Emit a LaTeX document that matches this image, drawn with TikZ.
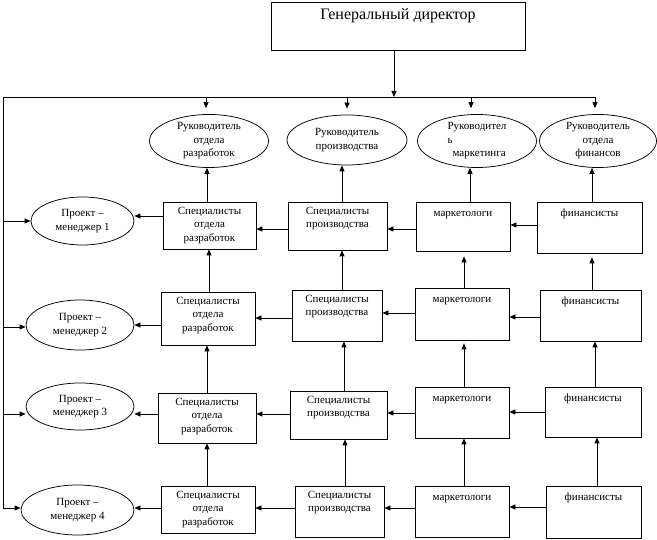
\documentclass[tikz,border=0pt]{standalone}
\usepackage{fontspec}
\setmainfont{Liberation Serif}
\usetikzlibrary{arrows.meta,shapes.geometric}

\begin{document}
\begin{tikzpicture}[x=1pt,y=-1pt,line width=0.75pt,
    >={Triangle[length=6pt,width=5pt]},font=\fontsize{11}{13.5}\selectfont,
    box/.style={draw,rectangle,inner sep=0pt},
    boss/.style={draw,ellipse,inner sep=-2pt,minimum width=119pt,minimum height=53pt,align=center},
    pm/.style={draw,ellipse,inner sep=0pt,align=center},
    txt/.style={label={[anchor=north,align=center,inner sep=5pt,execute at begin node=\strut]north:#1}}]
    \useasboundingbox (0,0) rectangle (657,540);
    % director
    \node[box,minimum width=254pt,minimum height=48pt,
      label={[anchor=north,inner sep=6.5pt,font=\fontsize{16}{19}\selectfont]north:Генеральный директор}] (gd) at (398,26) {};
    % heads
    \node[boss] (rd) at (209,141) {Руководитель\\отдела\\разработок};
    \node[boss,minimum width=120pt,minimum height=50pt] (rp) at (347,140) {Руководитель\\производства};
    \node[boss,align=left] (rm) at (477,141) {Руководител\\ь\\\hspace*{5pt}маркетинга};
    \node[boss,minimum width=117pt] (rf) at (598,141) {Руководитель\\отдела\\финансов};
    % row 1
    \node[pm,minimum width=103pt,minimum height=48pt] (pm1) at (82.5,221) {Проект –\\менеджер 1};
    \node[box,minimum width=93pt,minimum height=47pt,txt=Специалисты\\отдела\\разработок] (d1) at (209.5,225.5) {};
    \node[box,minimum width=99pt,minimum height=48pt,txt=Специалисты\\производства] (p1) at (337.5,226) {};
    \node[box,minimum width=94pt,minimum height=49pt,txt=маркетологи] (m1) at (463,226.5) {};
    \node[box,minimum width=105pt,minimum height=51pt,txt=финансисты] (f1) at (589.5,227.5) {};
    % row 2
    \node[pm,minimum width=108pt,minimum height=50pt] (pm2) at (80,325) {Проект –\\менеджер 2};
    \node[box,minimum width=94pt,minimum height=53pt,txt=Специалисты\\отдела\\разработок] (d2) at (208,318.5) {};
    \node[box,minimum width=90pt,minimum height=51pt,txt=Специалисты\\производства] (p2) at (337,315.5) {};
    \node[box,minimum width=94pt,minimum height=52pt,txt=маркетологи] (m2) at (462,314) {};
    \node[box,minimum width=101pt,minimum height=51pt,txt=финансисты] (f2) at (590.5,315.5) {};
    % row 3
    \node[pm,minimum width=108pt,minimum height=47pt] (pm3) at (80,406.5) {Проект –\\менеджер 3};
    \node[box,minimum width=98pt,minimum height=50pt,txt=Специалисты\\отдела\\разработок] (d3) at (207,418) {};
    \node[box,minimum width=97pt,minimum height=48pt,txt=Специалисты\\производства] (p3) at (338.5,415) {};
    \node[box,minimum width=94pt,minimum height=51pt,txt=маркетологи] (m3) at (462,412.5) {};
    \node[box,minimum width=96pt,minimum height=50pt,txt=финансисты] (f3) at (593,412) {};
    % row 4
    \node[pm,minimum width=113pt,minimum height=50pt] (pm4) at (77.5,510) {Проект –\\менеджер 4};
    \node[box,minimum width=94pt,minimum height=47pt,txt=Специалисты\\отдела\\разработок] (d4) at (208,509.5) {};
    \node[box,minimum width=89pt,minimum height=51pt,txt=Специалисты\\производства] (p4) at (339.5,511.5) {};
    \node[box,minimum width=94pt,minimum height=51pt,txt=маркетологи] (m4) at (462,511.5) {};
    \node[box,minimum width=95pt,minimum height=52pt,txt=финансисты] (f4) at (593.5,512) {};
    % bus
    \coordinate (tj) at (394,97);
    \coordinate (tl) at (3,97);
    \coordinate (tr) at (595,97);
    \coordinate (bl) at (3,508);
    \draw[->] (gd.south -| tj) -- (tj);
    \draw (tr) -- (tl) -- (bl);
    \draw[->,shorten >=6pt] (tl -| 206,0) -- (rd.north -| 206,0);
    \draw[->,shorten >=6pt] (tl -| 347,0) -- (rp.north -| 347,0);
    \draw[->,shorten >=6pt] (tl -| 471,0) -- (rm.north -| 471,0);
    \draw[->,shorten >=6pt] (tr) -- (rf.north -| tr);
    % upwards
    \draw[->] (d1.north -| 207,0) -- (rd.south -| 207,0);
    \draw[->] (p1.north -| 342,0) -- (rp.south -| 342,0);
    \draw[->] (m1.north -| 470,0) -- (rm.south -| 470,0);
    \draw[->] (f1.north -| 592,0) -- (rf.south -| 592,0);
    \draw[->] (d2.north -| 209,0) -- (d1.south -| 209,0);
    \draw[->] (p2.north -| 342,0) -- (p1.south -| 342,0);
    \draw[->,shorten >=5pt] (m2.north -| 464,0) -- (m1.south -| 464,0);
    \draw[->,shorten >=4pt] (f2.north -| 592,0) -- (f1.south -| 592,0);
    \draw[->] (d3.north -| 207,0) -- (d2.south -| 207,0);
    \draw[->] (p3.north -| 344,0) -- (p2.south -| 344,0);
    \draw[->,shorten >=3pt] (m3.north -| 464,0) -- (m2.south -| 464,0);
    \draw[->] (f3.north -| 595,0) -- (f2.south -| 595,0);
    \draw[->] (d4.north -| 207,0) -- (d3.south -| 207,0);
    \draw[->] (p4.north -| 345,0) -- (p3.south -| 345,0);
    \draw[->] (m4.north -| 464,0) -- (m3.south -| 464,0);
    \draw[->] (f4.north -| 597,0) -- (f3.south -| 597,0);
    % leftwards
    \draw[->] (f1.west |- 0,225) -- (m1.east |- 0,225);
    \draw[->] (m1.west |- 0,229) -- (p1.east |- 0,229);
    \draw[->] (p1.west |- 0,229) -- (d1.east |- 0,229);
    \draw[->] (d1.west |- 0,216) -- (pm1.east |- 0,216);
    \draw[->] (bl |- 0,221) -- (pm1.west |- 0,221);
    \draw[->] (f2.west |- 0,317) -- (m2.east |- 0,317);
    \draw[->] (m2.west |- 0,313) -- (p2.east |- 0,313);
    \draw[->] (p2.west |- 0,318) -- (d2.east |- 0,318);
    \draw[->] (d2.west |- 0,325) -- (pm2.east |- 0,325);
    \draw[->] (bl |- 0,327) -- (pm2.west |- 0,327);
    \draw[->] (f3.west |- 0,412) -- (m3.east |- 0,412);
    \draw[->] (m3.west |- 0,413) -- (p3.east |- 0,413);
    \draw[->] (p3.west |- 0,414) -- (d3.east |- 0,414);
    \draw[->] (d3.west |- 0,414) -- (pm3.east |- 0,414);
    \draw[->] (bl |- 0,414) -- (pm3.west |- 0,414);
    \draw[->] (f4.west |- 0,507) -- (m4.east |- 0,507);
    \draw[->] (m4.west |- 0,508) -- (p4.east |- 0,508);
    \draw[->] (p4.west |- 0,508) -- (d4.east |- 0,508);
    \draw[->] (d4.west |- 0,508) -- (pm4.east |- 0,508);
    \draw[->] (bl) -- (pm4.west |- bl);
\end{tikzpicture}
\end{document}
